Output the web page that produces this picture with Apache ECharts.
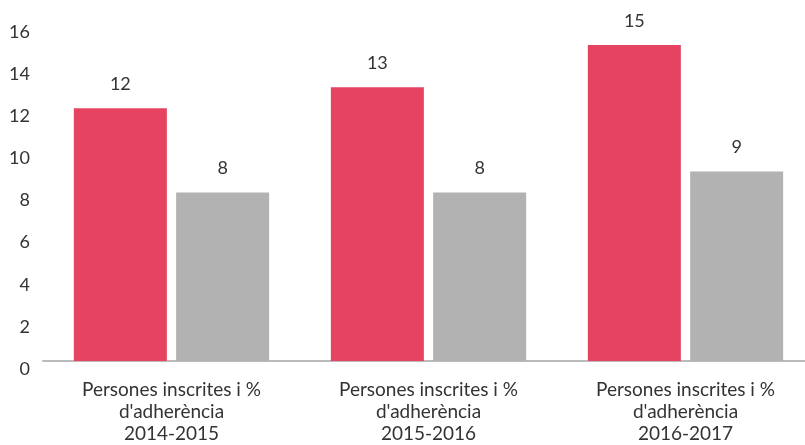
<!DOCTYPE html>
<html><head><meta charset="utf-8">
<script src="https://cdn.jsdelivr.net/npm/echarts@6/dist/echarts.min.js"></script>
<style>html,body{margin:0;padding:0;background:#fff;overflow:hidden;width:805px;height:445px}#c{width:820px;height:445px}</style>
</head><body><div id="c"></div>
<script>
const categories = ["Persones inscrites i %\nd'adherència\n2014-2015", "Persones inscrites i %\nd'adherència\n2015-2016", "Persones inscrites i %\nd'adherència\n2016-2017"];
const seriesA = [12, 13, 15];
const seriesB = [8, 8, 9];
const yTicks = {min: 0, max: 16, interval: 2};
const font = 'Lato';
const chart = echarts.init(document.getElementById('c'));
chart.setOption({
  animation: false,
  textStyle: {fontFamily: font},
  grid: {left: 43, right: 6, top: 24, bottom: 84, containLabel: false},
  xAxis: {
    type: 'category', data: categories,
    axisLine: {lineStyle: {color: '#bbbbbb', width: 2}},
    axisTick: {show: false},
    axisLabel: {color: '#333', fontSize: 19, lineHeight: 22, margin: 18, fontFamily: font, interval: 0}
  },
  yAxis: {
    type: 'value', min: yTicks.min, max: yTicks.max, interval: yTicks.interval,
    splitLine: {show: false}, axisLine: {show: false}, axisTick: {show: false},
    axisLabel: {color: '#333', fontSize: 18, margin: 13, verticalAlign: 'top', padding: [-1, 0, 0, 0], fontFamily: font}
  },
  series: [
    {type: 'bar', data: seriesA, barWidth: 93, barGap: '10%', itemStyle: {color: '#E54360'},
     label: {show: true, position: 'top', distance: 15, color: '#333', fontSize: 18, fontFamily: font}},
    {type: 'bar', data: seriesB, barWidth: 93, itemStyle: {color: '#B2B2B2'},
     label: {show: true, position: 'top', distance: 15, color: '#333', fontSize: 18, fontFamily: font}}
  ]
});
</script></body></html>
